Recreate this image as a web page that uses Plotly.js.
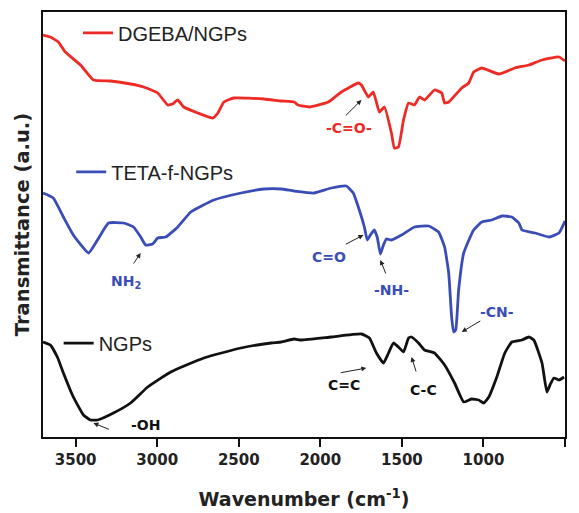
<!DOCTYPE html>
<html><head><meta charset="utf-8">
<script src="https://cdn.plot.ly/plotly-3.0.1.min.js"></script>
<style>html,body{margin:0;padding:0;background:#fff}#chart{width:579px;height:513px}</style>
</head><body><div id="chart"></div>
<script>
// Wavenumber (cm^-1) and transmittance (a.u.)
const dgebaWave = [3700,3655,3606,3563,3470,3391,3286,3163,3083,2997,2935,2905,2874,2837,2751,2659,2628,2591,2530,2345,2240,2161,2136,2068,1951,1871,1767,1748,1705,1675,1638,1607,1564,1546,1521,1490,1459,1423,1392,1361,1300,1256,1238,1213,1133,1090,1060,1010,906,808,721,641,537,500];
const dgebaT    = [402,400,395,385,372,357,356,353,350,344,332,333,337,330,324,319,324,335,339,338,336,335,332,330,335,345,354,352,340,345,325,330,304,289,290,317,334,332,340,337,347,344,334,335,349,354,365,369,363,369,372,377,380,376];

const tetaWave = [3700,3637,3575,3514,3421,3366,3298,3206,3145,3101,3071,3028,2997,2948,2874,2794,2653,2486,2345,2240,2161,2038,1933,1841,1798,1761,1730,1712,1693,1669,1650,1632,1613,1595,1564,1502,1423,1336,1275,1238,1213,1195,1183,1170,1152,1121,1060,1010,949,887,826,783,764,685,598,537,500];
const tetaT    = [244,239,220,202,184,197,214,214,210,200,192,193,199,200,210,225,237,244,248,248,246,244,249,251,244,227,210,197,202,207,199,183,192,198,197,202,210,211,205,190,164,120,105,107,147,184,207,215,217,221,220,214,207,204,200,204,216];

const ngpWave = [3700,3655,3612,3575,3514,3452,3409,3366,3268,3163,3058,2917,2714,2486,2302,2240,2161,2117,1933,1748,1699,1656,1613,1582,1552,1521,1490,1459,1441,1398,1361,1300,1238,1177,1121,1072,1029,998,967,918,869,826,764,721,691,641,611,592,568,537,506];
const ngpT    = [95,92,80,64,40,22,17,17,24,34,50,65,79,89,94,95,98,97,100,103,99,84,74,84,94,90,85,99,100,94,87,84,72,54,35,38,37,34,40,60,84,95,97,100,97,74,45,52,59,57,60];

const seriesNames = ['DGEBA/NGPs','TETA-f-NGPs','NGPs'];
const seriesColors = ['#ee2a24','#3a4db6','#111111'];
const xTicks = [3500,3000,2500,2000,1500,1000,500];

// Peak labels: [text, textX, textY, headX, headY, tailX, tailY, color]
const peakLabels = [
  ['-C=O-',1822,309,1748,337,1853,320,'#ee2a24'],
  ['NH<sub>2</sub>',3194,155,3101,184,3151,172,'#3a4db6'],
  ['C=O',1945,180,1736,202,1853,192,'#3a4db6'],
  ['-NH-',1564,147,1632,177,1595,162,'#3a4db6'],
  ['-CN-',918,125,1133,105,1010,117,'#3a4db6'],
  ['-OH',3071,12,3391,14,3286,7,'#111111'],
  ['C=C',1853,52,1718,69,1884,64,'#111111'],
  ['C-C',1367,47,1441,80,1410,64,'#111111']
];

const FONT = 'Liberation Sans, Arial, sans-serif';
const BFONT = 'DejaVu Sans, Liberation Sans, sans-serif';
const xs = [dgebaWave, tetaWave, ngpWave];
const ys = [dgebaT, tetaT, ngpT];
const legendIds = ['legend','legend2','legend3'];
const traces = xs.map((x,i)=>({
  x:x, y:ys[i], type:'scatter', mode:'lines', name:seriesNames[i],
  line:{color:seriesColors[i], width:2.8, shape:'spline', smoothing:0.4},
  legend:legendIds[i]
}));

const annotations = [];
peakLabels.forEach(p=>{
  annotations.push({x:p[1], y:p[2], xref:'x', yref:'y', text:'<b>'+p[0]+'</b>', showarrow:false,
    font:{family:BFONT, size:14, color:p[7]}});
  annotations.push({x:p[3], y:p[4], xref:'x', yref:'y', ax:p[5], ay:p[6], axref:'x', ayref:'y',
    text:'', showarrow:true, arrowhead:2, arrowsize:1, arrowwidth:1, arrowcolor:'#222'});
});

const legFont = {family:FONT, size:20, color:'#222'};
const mkLeg = (x,y)=>({x:x, y:y, xanchor:'left', yanchor:'middle', bgcolor:'rgba(0,0,0,0)', borderwidth:0, font:legFont});

const layout = {
  width:579, height:513,
  margin:{l:43, r:14, t:12, b:76},
  paper_bgcolor:'#fff', plot_bgcolor:'#fff',
  showlegend:true,
  legend: mkLeg(0.067,0.951),
  legend2: mkLeg(0.054,0.624),
  legend3: mkLeg(0.030,0.221),
  xaxis:{
    range:[3700,500], tickvals:xTicks, ticktext:xTicks.map(String),
    showline:true, linewidth:2, linecolor:'#111', mirror:true,
    ticks:'outside', ticklen:8, tickwidth:2, tickcolor:'#111',
    showgrid:false, zeroline:false,
    tickfont:{family:BFONT, size:15, color:'#222', weight:'bold'},
    title:{text:'<b>Wavenumber (cm<sup>-1</sup>)</b>', font:{family:BFONT, size:19, color:'#222'}, standoff:25}
  },
  yaxis:{
    range:[0,425], showline:true, linewidth:2, linecolor:'#111', mirror:true,
    ticks:'', showticklabels:false, showgrid:false, zeroline:false,
    title:{text:'<b>Transmittance (a.u.)</b>', font:{family:BFONT, size:19.5, color:'#222'}, standoff:6}
  },
  annotations:annotations
};

Plotly.newPlot('chart', traces, layout, {staticPlot:true, displayModeBar:false});
</script>
</body></html>
